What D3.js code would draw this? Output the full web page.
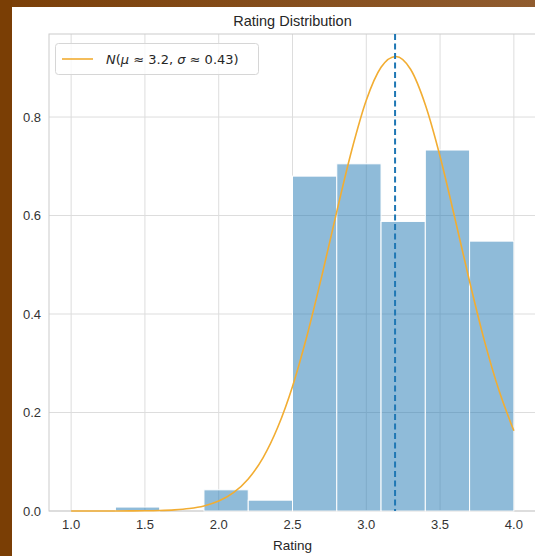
<!DOCTYPE html>
<html>
<head>
<meta charset="utf-8">
<script src="https://cdn.jsdelivr.net/npm/d3@7"></script>
<style>
  body { margin: 0; background: #ffffff; }
  svg { display: block; }
</style>
</head>
<body>
<div id="chart"></div>
<script>
// histogram bins (rating, density)
var binEdges = [1.0, 1.3, 1.6, 1.9, 2.2, 2.5, 2.8, 3.1, 3.4, 3.7, 4.0];
var binDensity = [0.0, 0.008, 0.0, 0.043, 0.022, 0.68, 0.705, 0.588, 0.733, 0.548];

// fitted normal curve
var curveX = [1.0, 1.1, 1.2, 1.3, 1.4, 1.5, 1.6, 1.7, 1.8, 1.9, 2.0, 2.1, 2.2, 2.3, 2.4, 2.5,
              2.6, 2.7, 2.8, 2.9, 3.0, 3.1, 3.2, 3.3, 3.4, 3.5, 3.6, 3.7, 3.8, 3.9, 4.0];
var curveY = [0.0, 0.0, 0.0, 0.0001, 0.0002, 0.0004, 0.001, 0.0023, 0.005, 0.0103, 0.0201, 0.0372,
              0.0651, 0.108, 0.170, 0.253, 0.358, 0.479, 0.608, 0.731, 0.834, 0.901, 0.923,
              0.897, 0.825, 0.720, 0.595, 0.466, 0.346, 0.244, 0.163];
var meanRating = 3.195;

var xTicks = [1.0, 1.5, 2.0, 2.5, 3.0, 3.5, 4.0];
var yTicks = [0.0, 0.2, 0.4, 0.6, 0.8];

var W = 535, H = 556;
var margin = { top: 34, right: -1, bottom: 45, left: 49 };
var width = W - margin.left - margin.right,
    height = H - margin.top - margin.bottom;

var svg = d3.select("#chart").append("svg")
    .attr("width", W)
    .attr("height", H);

// brown frame around the screenshot
var defs = svg.append("defs");
var grad = defs.append("linearGradient").attr("id", "topband")
    .attr("x1", "0%").attr("x2", "100%");
grad.append("stop").attr("offset", "0%").attr("stop-color", "#7a3f08");
grad.append("stop").attr("offset", "100%").attr("stop-color", "#905c2f");
svg.append("rect").attr("x", 0).attr("y", 0).attr("width", W).attr("height", 7)
    .attr("fill", "url(#topband)");
svg.append("rect").attr("x", 0).attr("y", 0).attr("width", 12).attr("height", H)
    .attr("fill", "#7a3e05");

var g = svg.append("g")
    .attr("transform", "translate(" + margin.left + "," + margin.top + ")");

var x = d3.scaleLinear().domain([0.85, 4.15]).range([0, width]);
var y = d3.scaleLinear().domain([0, 0.9686]).range([height, 0]);

// grid
g.append("g").selectAll("line").data(xTicks).enter().append("line")
    .attr("x1", d => x(d)).attr("x2", d => x(d))
    .attr("y1", 0).attr("y2", height)
    .attr("stroke", "#dddddd").attr("stroke-width", 1);
g.append("g").selectAll("line").data(yTicks).enter().append("line")
    .attr("x1", 0).attr("x2", width)
    .attr("y1", d => y(d)).attr("y2", d => y(d))
    .attr("stroke", "#dddddd").attr("stroke-width", 1);

// spines
g.append("rect").attr("x", 0).attr("y", 0).attr("width", width).attr("height", height)
    .attr("fill", "none").attr("stroke", "#cccccc").attr("stroke-width", 1);

// bars
var bins = binDensity.map(function(v, i) {
    return { x0: binEdges[i], x1: binEdges[i + 1], v: v };
});
g.append("g").selectAll("rect").data(bins).enter().append("rect")
    .attr("x", d => x(d.x0))
    .attr("width", d => x(d.x1) - x(d.x0))
    .attr("y", d => y(d.v))
    .attr("height", d => y(0) - y(d.v))
    .attr("fill", "#1f77b4").attr("fill-opacity", 0.5)
    .attr("stroke", "#ffffff").attr("stroke-width", 1);

// normal curve
var line = d3.line().x(d => x(d[0])).y(d => y(d[1])).curve(d3.curveMonotoneX);
g.append("path")
    .datum(curveX.map((v, i) => [v, curveY[i]]))
    .attr("d", line)
    .attr("fill", "none")
    .attr("stroke", "#f2ad32").attr("stroke-width", 1.6);

// mean line
g.append("line")
    .attr("x1", x(meanRating)).attr("x2", x(meanRating))
    .attr("y1", 0).attr("y2", height)
    .attr("stroke", "#1f77b4").attr("stroke-width", 2)
    .attr("stroke-dasharray", "6,3.5");

// ticks
var tickColor = "#333333";
g.append("g").selectAll("text").data(xTicks).enter().append("text")
    .attr("x", d => x(d)).attr("y", height + 18)
    .attr("text-anchor", "middle")
    .attr("font-family", "Liberation Sans, Arial, sans-serif")
    .attr("font-size", 13).attr("fill", tickColor)
    .text(d => d.toFixed(1));
g.append("g").selectAll("text").data(yTicks).enter().append("text")
    .attr("x", -8).attr("y", d => y(d)).attr("dy", "0.35em")
    .attr("text-anchor", "end")
    .attr("font-family", "Liberation Sans, Arial, sans-serif")
    .attr("font-size", 13).attr("fill", tickColor)
    .text(d => d.toFixed(1));

// labels
svg.append("text")
    .attr("x", margin.left + width / 2).attr("y", 26)
    .attr("text-anchor", "middle")
    .attr("font-family", "Liberation Sans, Arial, sans-serif")
    .attr("font-size", 14.5).attr("fill", "#262626")
    .text("Rating Distribution");
svg.append("text")
    .attr("x", margin.left + width / 2).attr("y", 550)
    .attr("text-anchor", "middle")
    .attr("font-family", "Liberation Sans, Arial, sans-serif")
    .attr("font-size", 13.5).attr("fill", "#262626")
    .text("Rating");

// legend
var lg = svg.append("g");
lg.append("rect")
    .attr("x", 55.5).attr("y", 43.5).attr("width", 203).attr("height", 31)
    .attr("rx", 3).attr("fill", "#ffffff").attr("fill-opacity", 0.8)
    .attr("stroke", "#d6d6d6");
lg.append("line")
    .attr("x1", 62).attr("x2", 93).attr("y1", 59).attr("y2", 59)
    .attr("stroke", "#f2ad32").attr("stroke-width", 1.6);
var lt = lg.append("text")
    .attr("x", 106).attr("y", 64)
    .attr("font-family", "DejaVu Sans, sans-serif")
    .attr("font-size", 13).attr("fill", "#262626");
lt.append("tspan").attr("font-style", "italic").text("N");
lt.append("tspan").text("(");
lt.append("tspan").attr("font-style", "italic").text("μ");
lt.append("tspan").text(" ≈ 3.2, ");
lt.append("tspan").attr("font-style", "italic").text("σ");
lt.append("tspan").text(" ≈ 0.43)");
</script>
</body>
</html>
